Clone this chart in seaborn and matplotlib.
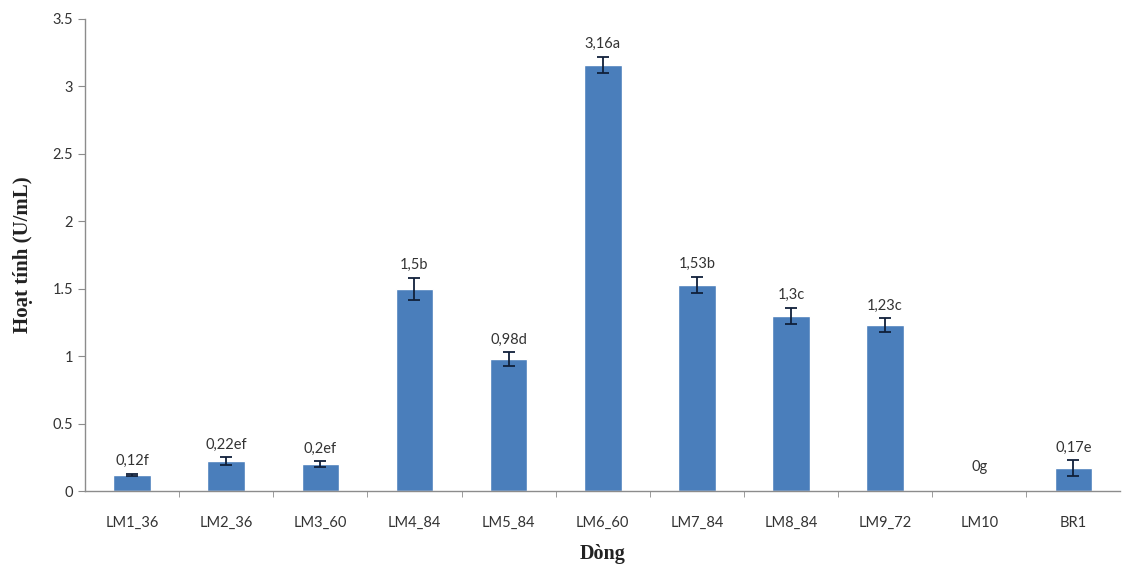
import matplotlib
matplotlib.use("Agg")
import matplotlib.pyplot as plt
import seaborn as sns
import pandas as pd
import numpy as np

# Enzyme activity per strain line
lines = ["LM1_36", "LM2_36", "LM3_60", "LM4_84", "LM5_84", "LM6_60",
         "LM7_84", "LM8_84", "LM9_72", "LM10", "BR1"]
activity = [0.12, 0.22, 0.20, 1.50, 0.98, 3.16, 1.53, 1.30, 1.23, 0.0, 0.17]
errors = [0.01, 0.03, 0.02, 0.08, 0.05, 0.06, 0.06, 0.06, 0.05, 0.0, 0.06]
letters = ["f", "ef", "ef", "b", "d", "a", "b", "c", "c", "g", "e"]

df = pd.DataFrame({"Dòng": lines, "Hoạt tính": activity, "sd": errors, "grp": letters})
df["pos"] = np.arange(len(df))

sns.set_style("white")
plt.rcParams["font.family"] = ["Lato", "DejaVu Sans"]

fig = plt.figure(figsize=(11.23, 5.75), dpi=100)
ax = fig.add_axes([0.0757, 0.146, 0.922, 0.821])

sns.barplot(data=df, x="Dòng", y="Hoạt tính", color="#4A7EBB", width=0.4,
            saturation=1, errorbar=None, ax=ax)

# standard deviation whiskers (only where a deviation was measured)
err = df[df["sd"] > 0]
ax.errorbar(err["pos"], err["Hoạt tính"], yerr=err["sd"], fmt="none",
            ecolor="#10203a", elinewidth=1.3, capsize=4, capthick=1.3)

def fmt(v):
    s = f"{v:.2f}".rstrip("0").rstrip(".")
    return s.replace(".", ",")

for xi, v, e, g in zip(df["pos"], df["Hoạt tính"], df["sd"], df["grp"]):
    off = 4 if e > 0 else 12
    ax.annotate(f"{fmt(v)}{g}", xy=(xi, v + e), xytext=(0, off),
                textcoords="offset points", ha="center", va="bottom",
                fontsize=10.5, color="#333333")

ax.set_ylim(0, 3.5)
ax.set_xlim(-0.5, len(df) - 0.5)
ax.set_yticks(np.arange(0, 3.51, 0.5))
ax.set_yticklabels(["0", "0.5", "1", "1.5", "2", "2.5", "3", "3.5"])

for side in ["top", "right"]:
    ax.spines[side].set_visible(False)
for side in ["left", "bottom"]:
    ax.spines[side].set_color("#8c8c8c")
    ax.spines[side].set_linewidth(1.0)

ax.tick_params(axis="y", direction="out", length=5, color="#8c8c8c",
               labelsize=10.5, labelcolor="#333333", left=True)
ax.tick_params(axis="x", length=0, labelsize=10.5, labelcolor="#333333", pad=18)

# category boundary tick marks on the x axis
ax.set_xticks(np.arange(0.5, len(df) - 0.5, 1.0), minor=True)
ax.tick_params(axis="x", which="minor", direction="out", length=4,
               color="#8c8c8c", bottom=True)

ax.set_xlabel("Dòng", fontsize=14.5, fontweight="bold",
              family="Liberation Serif", labelpad=10, color="#222222")
ax.set_ylabel("Hoạt tính (U/mL)", fontsize=15, fontweight="bold",
              family="Liberation Serif", labelpad=14, color="#222222")

fig.savefig("out.png", dpi=100)
